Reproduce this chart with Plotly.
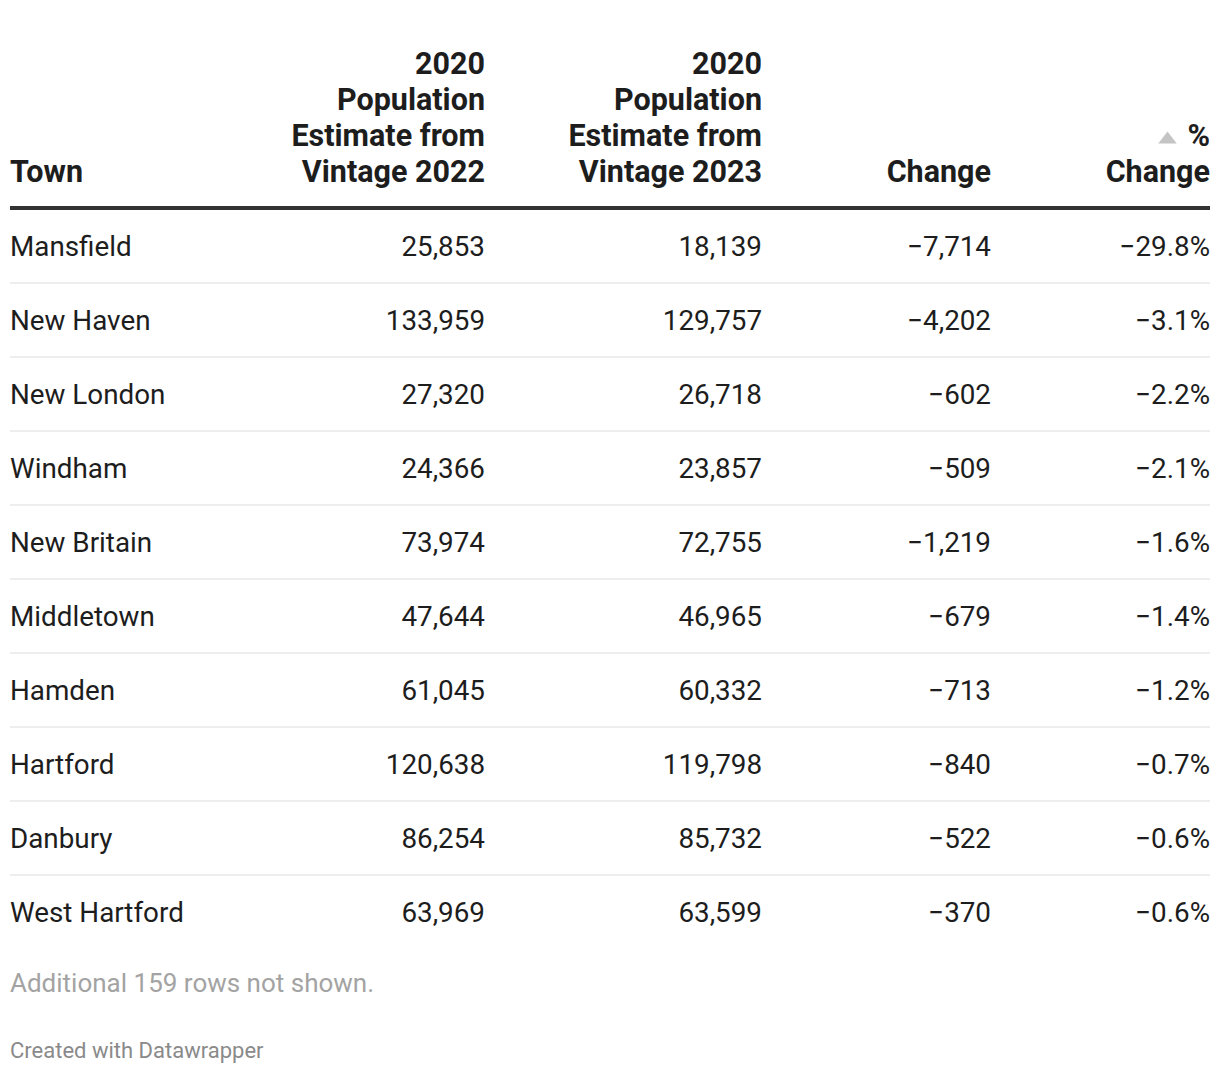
import plotly.graph_objects as go

towns = ["Mansfield", "New Haven", "New London", "Windham", "New Britain",
         "Middletown", "Hamden", "Hartford", "Danbury", "West Hartford"]
pop_v2022 = [25853, 133959, 27320, 24366, 73974, 47644, 61045, 120638, 86254, 63969]
pop_v2023 = [18139, 129757, 26718, 23857, 72755, 46965, 60332, 119798, 85732, 63599]
change = [-7714, -4202, -602, -509, -1219, -679, -713, -840, -522, -370]
pct_change = [-29.8, -3.1, -2.2, -2.1, -1.6, -1.4, -1.2, -0.7, -0.6, -0.6]
headers = [["Town"],
           ["2020", "Population", "Estimate from", "Vintage 2022"],
           ["2020", "Population", "Estimate from", "Vintage 2023"],
           ["Change"],
           ["%", "Change"]]
sorted_col = 4      # column carrying the sort-indicator arrow
note = "Additional 159 rows not shown."
credit = "Created with Datawrapper"

W, H = 1220, 1074
MARGIN = 8          # page body margin of the html file
FS = 27.8           # body font
HFS = 30.5          # header font
TXT = "#1d1d1d"

def num(v):
    return f"{v:,}".replace("-", "\u2212")

def pct(v):
    return f"{v:.1f}%".replace("-", "\u2212")

# layout geometry (pixels of the page)
col_x = [10, 485, 762, 991, 1210]
row0, step = 246, 74
row_y = [row0 + step * i for i in range(len(towns))]
head_last, head_lh = 171, 36
left, right = 10, 1210

def cy(y, fs):
    return y + 0.105 * fs  # centre of caps -> anchor point

fig = go.Figure()

# header (one text point per line)
for j, lines in enumerate(headers):
    n = len(lines)
    ys = [cy(head_last - head_lh * (n - 1 - k), HFS) for k in range(n)]
    fig.add_trace(go.Scatter(
        x=[col_x[j]] * n, y=ys, mode="text", text=lines,
        textposition="middle right" if j == 0 else "middle left",
        textfont=dict(family="Roboto", size=HFS, color=TXT, weight="bold"),
        hoverinfo="skip", showlegend=False))

# sort arrow next to the first header line of the sorted column
n_sorted = len(headers[sorted_col])
fig.add_trace(go.Scatter(
    x=[col_x[sorted_col] - 42.5], y=[head_last - head_lh * (n_sorted - 1) + 4.5],
    mode="markers",
    marker=dict(symbol="triangle-up", size=16, color="#c4c4c4", line=dict(width=0)),
    hoverinfo="skip", showlegend=False))

# body
fig.add_trace(go.Scatter(
    x=[col_x[0]] * len(towns), y=[cy(y, FS) for y in row_y], mode="text", text=towns,
    textposition="middle right",
    textfont=dict(family="Roboto", size=FS, color=TXT),
    hoverinfo="skip", showlegend=False))
cols = [[num(v) for v in pop_v2022], [num(v) for v in pop_v2023],
        [num(v) for v in change], [pct(v) for v in pct_change]]
for j, col in enumerate(cols):
    fig.add_trace(go.Scatter(
        x=[col_x[j + 1]] * len(col), y=[cy(y, FS) for y in row_y], mode="text", text=col,
        textposition="middle left",
        textfont=dict(family="Roboto", size=FS, color=TXT),
        hoverinfo="skip", showlegend=False))

# lines
fig.add_shape(type="line", xref="x", yref="y", x0=left, x1=right, y0=208, y1=208,
              line=dict(color="#333333", width=4))
for i in range(len(towns) - 1):
    yy = row_y[i] + step / 2
    fig.add_shape(type="line", xref="x", yref="y", x0=left, x1=right, y0=yy, y1=yy,
                  line=dict(color="#e9e9e9", width=1.5))

# footer
fig.add_trace(go.Scatter(
    x=[col_x[0]], y=[cy(983, 26)], mode="text", text=[note], textposition="middle right",
    textfont=dict(family="Roboto", size=26, color="#a3a3a3"),
    hoverinfo="skip", showlegend=False))
fig.add_trace(go.Scatter(
    x=[col_x[0]], y=[cy(1050, 22)], mode="text", text=[credit], textposition="middle right",
    textfont=dict(family="Roboto", size=22, color="#8a8a8a"),
    hoverinfo="skip", showlegend=False))

fw, fh = W - 2 * MARGIN, H - 2 * MARGIN
fig.update_layout(
    width=fw, height=fh, margin=dict(l=0, r=0, t=0, b=0),
    paper_bgcolor="white", plot_bgcolor="white",
    xaxis=dict(range=[MARGIN, MARGIN + fw], visible=False, fixedrange=True),
    yaxis=dict(range=[MARGIN + fh, MARGIN], visible=False, fixedrange=True),
)
fig.write_html("out.html")
